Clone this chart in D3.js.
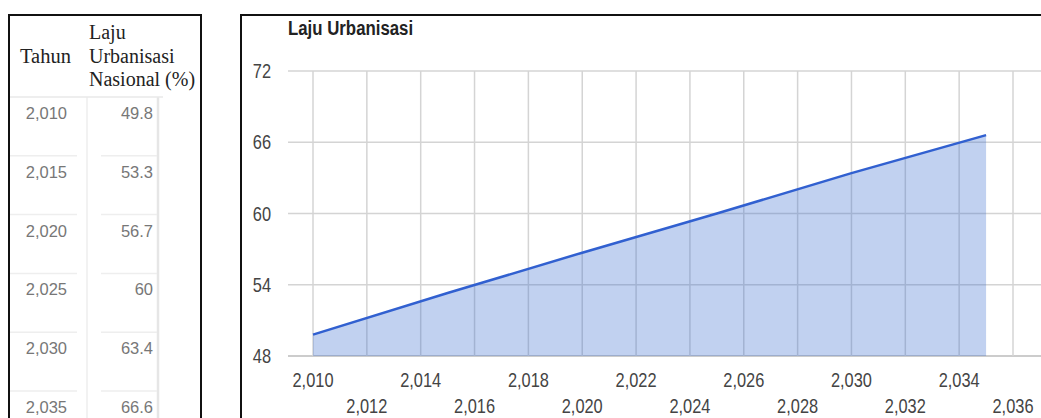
<!DOCTYPE html>
<html>
<head>
<meta charset="utf-8">
<script src="https://cdn.jsdelivr.net/npm/d3@7"></script>
<style>
  body { margin: 0; background: #fff; }
</style>
</head>
<body>
<svg id="chart" width="1041" height="418"></svg>
<script>
const years = [2010, 2015, 2020, 2025, 2030, 2035];
const rates = [49.8, 53.3, 56.7, 60, 63.4, 66.6];
const yTicks = [48, 54, 60, 66, 72];
const xTicks = [2010, 2012, 2014, 2016, 2018, 2020, 2022, 2024, 2026, 2028, 2030, 2032, 2034, 2036];
const headerLines = ["Laju", "Urbanisasi", "Nasional (%)"];

const data = years.map((y, i) => ({ year: y, rate: rates[i] }));
const fmt = d3.format(",");

const svg = d3.select("#chart");
const sans = "'Liberation Sans', Arial, sans-serif";
const serif = "'Liberation Serif', 'Times New Roman', serif";
// chart text in the picture is condensed, so squeeze it horizontally
const squeeze = (px, py) => "translate(" + px + "," + py + ") scale(0.82,1)";

// ---------- Left panel: table ----------
const table = svg.append("g");

table.append("rect")
    .attr("x", 9).attr("y", 15)
    .attr("width", 192).attr("height", 420)
    .attr("fill", "none").attr("stroke", "#111").attr("stroke-width", 2);

table.append("text")
    .attr("x", 20).attr("y", 63)
    .attr("font-family", serif)
    .attr("font-size", "20.5px")
    .attr("fill", "#222")
    .text("Tahun");

table.selectAll(".hdr")
    .data(headerLines)
    .enter().append("text")
    .attr("class", "hdr")
    .attr("x", 89)
    .attr("y", (d, i) => 39 + i * 23.5)
    .attr("font-family", serif)
    .attr("font-size", "20px")
    .attr("fill", "#222")
    .text(d => d);

const rowScale = d3.scaleBand()
    .domain(years)
    .range([97, 97 + 58.8 * years.length]);

// column dividers
table.append("line")
    .attr("x1", 87).attr("x2", 87).attr("y1", 97).attr("y2", 418)
    .attr("stroke", "#eee").attr("stroke-width", 1.5);
table.append("line")
    .attr("x1", 158).attr("x2", 158).attr("y1", 97).attr("y2", 418)
    .attr("stroke", "#e6e6e6").attr("stroke-width", 2.5);

// header separator
table.append("line")
    .attr("x1", 10).attr("x2", 163).attr("y1", 97).attr("y2", 97)
    .attr("stroke", "#e8e8e8").attr("stroke-width", 1.5);

const rows = table.selectAll(".row")
    .data(data)
    .enter().append("g")
    .attr("class", "row")
    .attr("transform", d => "translate(0," + rowScale(d.year) + ")");

rows.filter((d, i) => i > 0).append("line")
    .attr("x1", 10).attr("x2", 77).attr("y1", 0).attr("y2", 0)
    .attr("stroke", "#eee").attr("stroke-width", 1.5);
rows.filter((d, i) => i > 0).append("line")
    .attr("x1", 101).attr("x2", 157).attr("y1", 0).attr("y2", 0)
    .attr("stroke", "#eee").attr("stroke-width", 1.5);

rows.append("text")
    .attr("x", 67).attr("y", 22)
    .attr("text-anchor", "end")
    .attr("font-family", sans)
    .attr("font-size", "16.5px")
    .attr("fill", "#777")
    .text(d => fmt(d.year));

rows.append("text")
    .attr("x", 153).attr("y", 22)
    .attr("text-anchor", "end")
    .attr("font-family", sans)
    .attr("font-size", "16.5px")
    .attr("fill", "#777")
    .text(d => d.rate);

// ---------- Right panel: area chart ----------
const chart = svg.append("g");

chart.append("rect")
    .attr("x", 241).attr("y", 15)
    .attr("width", 820).attr("height", 420)
    .attr("fill", "none").attr("stroke", "#111").attr("stroke-width", 2);

const x = d3.scaleLinear().domain([2010, 2036]).range([313, 1013]);
const y = d3.scaleLinear().domain([48, 72]).range([356, 71]);
const gridLeft = 288, gridRight = 1041;

chart.append("text")
    .attr("transform", squeeze(288, 35))
    .attr("font-family", sans)
    .attr("font-weight", "bold")
    .attr("font-size", "20.5px")
    .attr("fill", "#222")
    .text("Laju Urbanisasi");

// horizontal gridlines
chart.selectAll(".hgrid")
    .data(yTicks)
    .enter().append("line")
    .attr("class", "hgrid")
    .attr("x1", gridLeft).attr("x2", gridRight)
    .attr("y1", d => y(d)).attr("y2", d => y(d))
    .attr("stroke", d => d === 48 ? "#bbb" : "#d4d4d4")
    .attr("stroke-width", 1.5);

// vertical gridlines
chart.selectAll(".vgrid")
    .data(xTicks)
    .enter().append("line")
    .attr("class", "vgrid")
    .attr("x1", d => x(d)).attr("x2", d => x(d))
    .attr("y1", y(72)).attr("y2", y(48))
    .attr("stroke", "#d4d4d4")
    .attr("stroke-width", 1.5);

// area + line
const area = d3.area()
    .x(d => x(d.year))
    .y0(y(48))
    .y1(d => y(d.rate));

const line = d3.line()
    .x(d => x(d.year))
    .y(d => y(d.rate));

chart.append("path")
    .datum(data)
    .attr("d", area)
    .attr("fill", "#3366cc")
    .attr("fill-opacity", 0.3);

chart.append("path")
    .datum(data)
    .attr("d", line)
    .attr("fill", "none")
    .attr("stroke", "#3160d0")
    .attr("stroke-width", 2.5);

// y labels
chart.selectAll(".ylab")
    .data(yTicks)
    .enter().append("text")
    .attr("class", "ylab")
    .attr("transform", d => squeeze(271, y(d) + 7))
    .attr("text-anchor", "end")
    .attr("font-family", sans)
    .attr("font-size", "20px")
    .attr("fill", "#444")
    .text(d => d);

// x labels, alternating rows
chart.selectAll(".xlab")
    .data(xTicks)
    .enter().append("text")
    .attr("class", "xlab")
    .attr("transform", (d, i) => squeeze(x(d), i % 2 === 0 ? 387 : 413))
    .attr("text-anchor", "middle")
    .attr("font-family", sans)
    .attr("font-size", "20px")
    .attr("fill", "#444")
    .text(d => fmt(d));
</script>
</body>
</html>
